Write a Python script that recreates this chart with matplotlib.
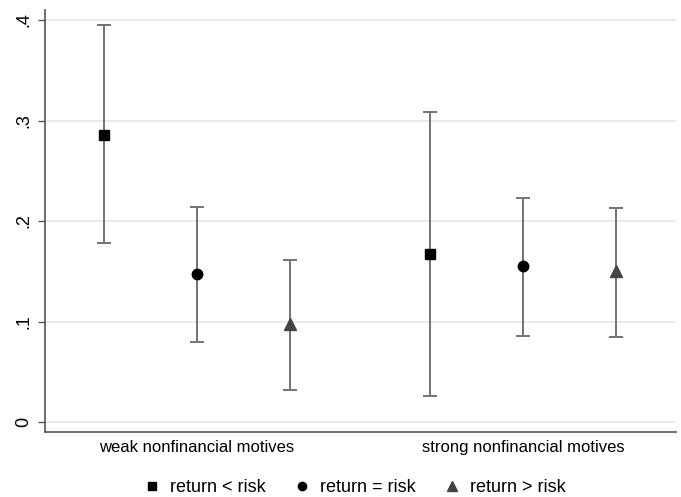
import matplotlib.pyplot as plt
from matplotlib.ticker import FixedLocator
import numpy as np

plt.rcParams['font.family'] = ['Liberation Sans', 'DejaVu Sans']

categories = ['weak nonfinancial motives', 'strong nonfinancial motives']
series = ['return < risk', 'return = risk', 'return > risk']

# point estimates and confidence bounds per series (weak, strong)
means = [[0.286, 0.167], [0.147, 0.155], [0.098, 0.150]]
lower = [[0.178, 0.026], [0.080, 0.086], [0.032, 0.085]]
upper = [[0.395, 0.308], [0.214, 0.223], [0.161, 0.213]]

markers = ['s', 'o', '^']
colors = ['black', 'black', '#444444']
sizes = [7.5, 7.5, 8.5]
offsets = [-0.285, 0.0, 0.285]


def plot():
    fig = plt.figure(figsize=(6.81, 4.97), dpi=100)
    ax = fig.add_axes([45 / 681, 1 - 432 / 497, 631 / 681, 422 / 497])

    cat_x = np.arange(len(categories))
    handles = []
    for i in range(len(series)):
        x = cat_x + offsets[i]
        m = np.array(means[i])
        yerr = [m - np.array(lower[i]), np.array(upper[i]) - m]
        ax.errorbar(x, m, yerr=yerr, fmt='none', ecolor='#737373',
                    elinewidth=1.4, capsize=5, capthick=1.4, zorder=2)
        h, = ax.plot(x, m, linestyle='none', marker=markers[i],
                     color=colors[i], markersize=sizes[i], zorder=3,
                     label=series[i])
        handles.append(h)

    ax.set_xlim(-0.466, 1.469)
    ax.set_ylim(-0.00995, 0.41)
    ax.yaxis.set_major_locator(FixedLocator([0, 0.1, 0.2, 0.3, 0.4]))
    ax.set_yticklabels(['0', '.1', '.2', '.3', '.4'], rotation=90,
                       va='center', fontsize=13)
    ax.set_xticks(cat_x)
    ax.set_xticklabels(categories, fontsize=12)
    ax.tick_params(axis='x', length=0, pad=6)
    ax.tick_params(axis='y', length=5, width=1, color='#555555', pad=4)

    ax.grid(axis='y', color='#e6e6e6', linewidth=1.2)
    ax.set_axisbelow(True)
    for s in ['top', 'right']:
        ax.spines[s].set_visible(False)
    for s in ['left', 'bottom']:
        ax.spines[s].set_color('#555555')
        ax.spines[s].set_linewidth(1.2)

    fig.legend(handles=handles, loc='center', bbox_to_anchor=(0.522, 0.019),
               ncol=3, frameon=False, fontsize=13, handlelength=0.8,
               handletextpad=0.6, columnspacing=1.6, markerscale=0.8)

    fig.savefig('out.png', dpi=100, facecolor='white')


def main():
    plot()

if __name__ == "__main__":
    main()
